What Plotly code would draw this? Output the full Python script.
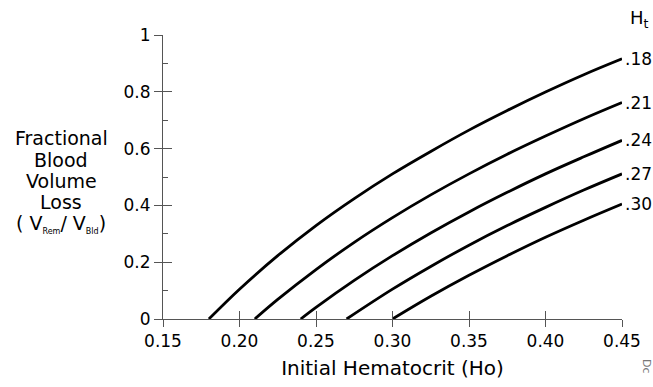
import plotly.graph_objects as go

# Initial hematocrit (Ho) sample points and fractional blood volume loss
# for each target hematocrit (Ht)
ht_labels = [".18", ".21", ".24", ".27", ".30"]

ho_18 = [0.18, 0.20, 0.225, 0.25, 0.275, 0.30, 0.325, 0.35, 0.375, 0.40, 0.425, 0.45]
loss_18 = [0.0, 0.105, 0.223, 0.329, 0.424, 0.511, 0.590, 0.665, 0.734, 0.799, 0.860, 0.916]

ho_21 = [0.21, 0.225, 0.25, 0.275, 0.30, 0.325, 0.35, 0.375, 0.40, 0.425, 0.45]
loss_21 = [0.0, 0.069, 0.174, 0.270, 0.357, 0.437, 0.511, 0.580, 0.644, 0.705, 0.762]

ho_24 = [0.24, 0.25, 0.275, 0.30, 0.325, 0.35, 0.375, 0.40, 0.425, 0.45]
loss_24 = [0.0, 0.041, 0.136, 0.223, 0.303, 0.377, 0.446, 0.511, 0.571, 0.629]

ho_27 = [0.27, 0.30, 0.325, 0.35, 0.375, 0.40, 0.425, 0.45]
loss_27 = [0.0, 0.105, 0.185, 0.260, 0.329, 0.393, 0.454, 0.511]

ho_30 = [0.30, 0.325, 0.35, 0.375, 0.40, 0.425, 0.45]
loss_30 = [0.0, 0.080, 0.154, 0.223, 0.288, 0.348, 0.405]

x_ticks = [0.15, 0.20, 0.25, 0.30, 0.35, 0.40, 0.45]
x_ticktext = ["0.15", "0.20", "0.25", "0.30", "0.35", "0.40", "0.45"]
y_ticks = [0, 0.2, 0.4, 0.6, 0.8, 1.0]
y_ticktext = ["0", "0.2", "0.4", "0.6", "0.8", "1"]

y_title_lines = [
    "Fractional",
    "Blood",
    "Volume",
    "Loss",
    "( V<sub><span style='font-size:8px'>Rem</span></sub>"
    "/ V<sub><span style='font-size:8px'>Bld</span></sub>)",
]

series = [(ho_18, loss_18), (ho_21, loss_21), (ho_24, loss_24),
          (ho_27, loss_27), (ho_30, loss_30)]

FONT = "DejaVu Sans"
AXIS_COLOR = "#555555"

fig = go.Figure()
for (xs, ys), lab in zip(series, ht_labels):
    fig.add_trace(go.Scatter(
        x=xs, y=ys, mode="lines", line=dict(color="black", width=2.8, shape="spline"),
        showlegend=False, hoverinfo="skip", cliponaxis=False,
    ))
    fig.add_annotation(
        x=xs[-1], y=ys[-1], xref="x", yref="y", text=lab, showarrow=False,
        xanchor="left", yanchor="middle", xshift=1,
        font=dict(family=FONT, size=17, color="black"),
    )

fig.add_annotation(
    x=1.0, y=1.0, xref="paper", yref="paper", text="H<sub>t</sub>", showarrow=False,
    xanchor="left", yanchor="bottom", xshift=6, yshift=2,
    font=dict(family=FONT, size=18, color="black"),
)

# y-axis title, one line per annotation to keep the tight line spacing
for i, line in enumerate(y_title_lines):
    fig.add_annotation(
        x=-0.222, y=0.637 - i * 0.0755, xref="paper", yref="paper",
        text=line, showarrow=False, xanchor="center", yanchor="middle",
        font=dict(family=FONT, size=19, color="black"),
    )

fig.add_annotation(
    x=1.0, y=0, xref="paper", yref="paper", text="Dc", textangle=90,
    showarrow=False, xanchor="left", yanchor="top", xshift=16, yshift=-38,
    font=dict(family=FONT, size=11, color="#777777"),
)

axis_common = dict(showgrid=False, zeroline=False)

fig.update_layout(
    width=653, height=387,
    margin=dict(l=163, r=31, t=35, b=64),
    paper_bgcolor="white", plot_bgcolor="white",
    xaxis=dict(
        range=[0.15, 0.45], tickvals=x_ticks, ticktext=x_ticktext,
        ticks="outside", ticklen=7, tickwidth=1, tickcolor=AXIS_COLOR,
        showline=True, linecolor=AXIS_COLOR, linewidth=1,
        tickfont=dict(family=FONT, size=17, color="black"),
        title=dict(text="Initial Hematocrit (Ho)", standoff=10,
                   font=dict(family=FONT, size=20, color="black")),
        **axis_common,
    ),
    yaxis=dict(
        range=[0, 1], tickvals=y_ticks, ticktext=y_ticktext,
        ticks="outside", ticklen=8, tickwidth=1, tickcolor=AXIS_COLOR,
        showline=True, linecolor=AXIS_COLOR, linewidth=1,
        tickfont=dict(family=FONT, size=17, color="black"),
        **axis_common,
    ),
    # overlay axes supply the inner half of each crossing tick
    xaxis2=dict(
        range=[0.15, 0.45], tickvals=x_ticks, overlaying="x", side="bottom",
        anchor="y", ticks="inside", ticklen=8, tickwidth=1, tickcolor=AXIS_COLOR,
        showticklabels=False, showline=False, **axis_common,
    ),
    yaxis2=dict(
        range=[0, 1], tickvals=y_ticks, overlaying="y", side="left",
        anchor="x", ticks="inside", ticklen=9, tickwidth=1, tickcolor=AXIS_COLOR,
        showticklabels=False, showline=False,
        minor=dict(tickvals=[0.1, 0.3, 0.5, 0.7, 0.9], ticks="inside",
                   ticklen=5, tickwidth=1, tickcolor=AXIS_COLOR),
        **axis_common,
    ),
)

# invisible trace bound to the overlay axes so they are drawn
fig.add_trace(go.Scatter(x=[0.15], y=[0], xaxis="x2", yaxis="y2", mode="markers",
                         marker=dict(opacity=0), showlegend=False, hoverinfo="skip"))

fig.write_html("out.html")
